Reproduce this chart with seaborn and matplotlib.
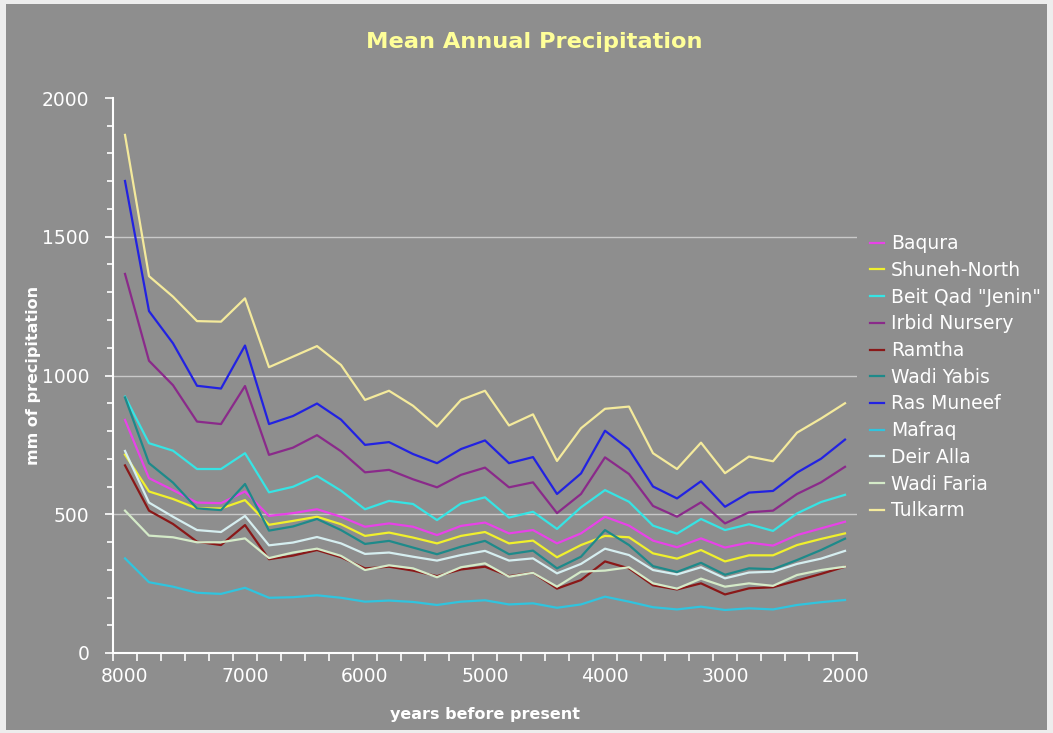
import numpy as np
import pandas as pd
import matplotlib
matplotlib.use('Agg')
import matplotlib.pyplot as plt
from matplotlib.patches import Rectangle
from matplotlib.ticker import MultipleLocator
import seaborn as sns

# x: years before present, one point every 200 years
years = list(range(8000, 1999, -200))

stations = ['Baqura', 'Shuneh-North', 'Beit Qad "Jenin"', 'Irbid Nursery', 'Ramtha',
            'Wadi Yabis', 'Ras Muneef', 'Mafraq', 'Deir Alla', 'Wadi Faria', 'Tulkarm']

baqura = [840, 630, 587, 542, 540, 582, 494, 504, 518, 491, 455, 467, 455, 425, 458, 470,
          431, 443, 395, 431, 491, 459, 405, 381, 413, 380, 398, 387, 425, 449, 473]
shuneh_north = [715, 582, 555, 521, 521, 551, 462, 476, 491, 464, 422, 434, 416, 395, 422, 436,
                395, 405, 345, 389, 422, 417, 359, 340, 371, 330, 352, 352, 389, 411, 431]
beit_qad = [924, 756, 729, 663, 663, 720, 579, 599, 638, 585, 518, 548, 537, 479, 539, 561,
            488, 509, 447, 525, 587, 545, 459, 430, 483, 443, 464, 440, 503, 544, 570]
irbid = [1366, 1053, 965, 834, 825, 962, 714, 740, 785, 727, 651, 660, 626, 597, 642, 668,
         597, 615, 504, 573, 705, 645, 530, 491, 543, 467, 507, 513, 573, 615, 671]
ramtha = [676, 513, 465, 401, 389, 461, 338, 351, 371, 345, 305, 311, 297, 277, 301, 311,
          277, 289, 232, 263, 330, 305, 244, 229, 251, 211, 233, 237, 261, 285, 311]
wadi_yabis = [921, 684, 614, 521, 515, 609, 441, 456, 483, 443, 393, 404, 380, 356, 383, 404,
              356, 369, 305, 347, 443, 389, 313, 292, 325, 282, 305, 302, 335, 371, 412]
ras_muneef = [1701, 1232, 1116, 963, 953, 1108, 825, 854, 899, 841, 750, 760, 717, 684, 735, 766,
              684, 706, 573, 647, 801, 734, 600, 557, 619, 527, 578, 584, 650, 700, 769]
mafraq = [341, 255, 239, 217, 213, 235, 199, 201, 208, 199, 185, 189, 184, 173, 185, 190,
          175, 179, 163, 175, 203, 185, 165, 157, 167, 155, 161, 157, 173, 183, 191]
deir_alla = [728, 542, 491, 443, 436, 494, 388, 398, 418, 395, 357, 362, 347, 333, 353, 368,
             333, 341, 287, 321, 376, 353, 299, 283, 309, 269, 290, 293, 321, 340, 368]
wadi_faria = [513, 423, 417, 399, 399, 413, 342, 362, 376, 350, 299, 316, 305, 273, 309, 323,
              275, 289, 239, 293, 297, 309, 251, 232, 268, 239, 251, 242, 281, 299, 311]
tulkarm = [1867, 1358, 1284, 1196, 1194, 1278, 1030, 1068, 1106, 1038, 912, 945, 891, 816, 912, 945,
           820, 860, 692, 810, 880, 888, 720, 663, 758, 648, 708, 691, 794, 845, 900]

series = [baqura, shuneh_north, beit_qad, irbid, ramtha, wadi_yabis,
          ras_muneef, mafraq, deir_alla, wadi_faria, tulkarm]

colors = ['#E842E8', '#F0F02C', '#36E4E4', '#8A2A8A', '#8A1818', '#1E8A8A',
          '#2222E2', '#30C4DE', '#D6EEF0', '#D4EAC8', '#F4EA9C']

df = pd.concat([pd.DataFrame({'year': years, 'precip': vals, 'station': name})
                for name, vals in zip(stations, series)], ignore_index=True)

bg = '#8E8E8E'
fig = plt.figure(figsize=(10.53, 7.33), dpi=100, facecolor='#EDEDED')
fig.patches.append(Rectangle((0.006, 0.004), 0.988, 0.99, transform=fig.transFigure,
                             facecolor=bg, edgecolor='none', zorder=-1))
ax = fig.add_axes([113 / 1053, 80 / 733, 744 / 1053, 555 / 733])
ax.set_facecolor(bg)

for y in [500, 1000, 1500]:
    ax.axhline(y, color='#C9C9C9', lw=1.0, zorder=0)

sns.lineplot(data=df, x='year', y='precip', hue='station', hue_order=stations,
             palette=dict(zip(stations, colors)), linewidth=1.6, ax=ax, estimator=None)

ax.set_xlim(8100, 1900)
ax.set_ylim(0, 2000)

for s in ['top', 'right']:
    ax.spines[s].set_visible(False)
for s in ['left', 'bottom']:
    ax.spines[s].set_color('white')
    ax.spines[s].set_linewidth(1.5)

tick_font = dict(family='DejaVu Sans', size=13.5)
ax.set_xticks(range(8000, 1999, -1000))
ax.set_xticklabels([str(v) for v in range(8000, 1999, -1000)], fontdict=tick_font, color='white')
ax.xaxis.set_minor_locator(MultipleLocator(200, offset=100))
ax.tick_params(axis='x', which='major', length=0, pad=10)
ax.tick_params(axis='x', which='minor', length=6, width=1.2, color='white', direction='out')

ax.set_yticks([0, 500, 1000, 1500, 2000])
ax.set_yticklabels(['0', '500', '1000', '1500', '2000'], fontdict=tick_font, color='white')
ax.yaxis.set_minor_locator(MultipleLocator(100))
ax.tick_params(axis='y', which='major', length=6, width=1.2, color='white', pad=11)
ax.tick_params(axis='y', which='minor', length=4, width=1.2, color='white')

lab_font = dict(family='DejaVu Sans', weight='bold', size=11.5, color='white')
ax.set_xlabel('years before present', **lab_font)
ax.set_ylabel('mm of precipitation', **lab_font)
ax.xaxis.set_label_coords(0.5, -(714 - 653) / 555, transform=ax.transAxes)
ax.yaxis.set_label_coords(-(113 - 33) / 744, 0.5, transform=ax.transAxes)
ax.xaxis.label.set_va('center')
ax.yaxis.label.set_va('center')

fig.text(534 / 1053, 1 - 42 / 733, 'Mean Annual Precipitation', ha='center', va='center',
         family='DejaVu Sans', weight='bold', size=16.2, color='#FFFF99')

handles, labels = ax.get_legend_handles_labels()
leg = ax.legend(handles, labels, loc='upper left', bbox_to_anchor=(1.0, 0.778),
                frameon=False, fontsize=13.5, handlelength=0.75, handletextpad=0.35,
                labelspacing=0.41, borderaxespad=0.3)
for t in leg.get_texts():
    t.set_color('white')

plt.savefig('out.png', dpi=100, facecolor=fig.get_facecolor())
